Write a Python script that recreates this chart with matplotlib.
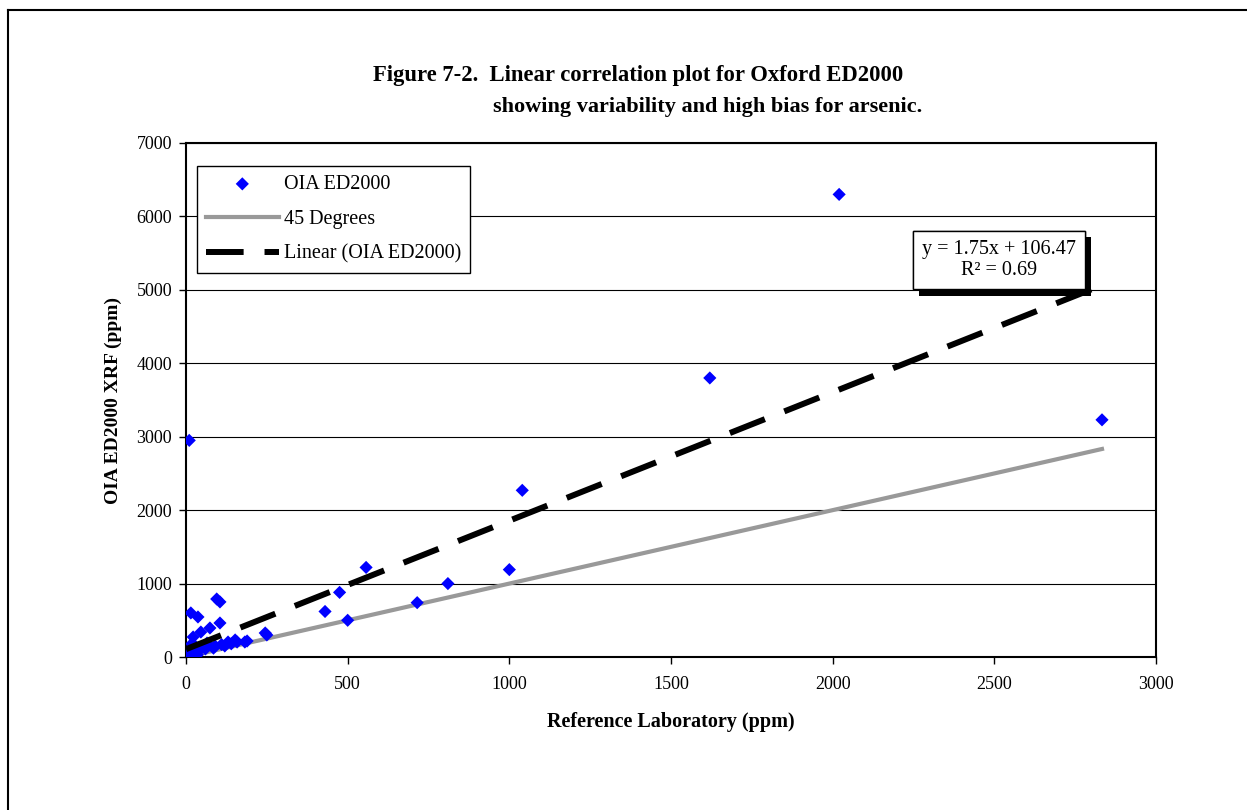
import matplotlib
matplotlib.use("Agg")
import matplotlib.pyplot as plt
import numpy as np
from matplotlib.lines import Line2D
from matplotlib import patheffects

# ---- data ----
ref_x = [2020, 1620, 2833, 10, 1040, 557, 1000, 810, 715, 475, 430, 500,
         250, 245, 189, 182, 152, 158, 130, 120, 95, 105, 105, 74, 46, 22,
         15, 37, 12, 5, 8, 20, 30, 3, 18, 28, 40, 50, 60, 70, 85, 65, 90,
         110, 140, 35, 25, 10]
xrf_y = [6300, 3800, 3230, 2950, 2270, 1220, 1190, 1000, 740, 880, 620, 500,
         300, 327, 218, 204, 232, 204, 204, 150, 790, 750, 463, 395, 340, 272,
         600, 545, 95, 40, 0, 120, 60, 70, 180, 150, 100, 130, 110, 160, 120,
         190, 150, 170, 180, 30, 20, 10]

slope = 1.75
intercept = 106.47
r2 = 0.69
x_ticks = [0, 500, 1000, 1500, 2000, 2500, 3000]
y_ticks = [0, 1000, 2000, 3000, 4000, 5000, 6000, 7000]

serif = ["Liberation Serif", "DejaVu Serif"]
plt.rcParams["font.family"] = serif

fig = plt.figure(figsize=(12.47, 8.10), dpi=100)
ax = fig.add_axes([186/1247, 1-657/810, 970/1247, 514/810])

# outer border
fig.add_artist(Line2D([8/1247, 8/1247], [0, 1-10/810], color="black", lw=1.5,
                      transform=fig.transFigure))
fig.add_artist(Line2D([8/1247, 1], [1-10/810, 1-10/810], color="black", lw=1.5,
                      transform=fig.transFigure))

xmax = max(ref_x)
xline = np.array([0, xmax])
ax.plot(xline, xline, color="#999999", lw=3, label="45 Degrees", zorder=2)
ax.plot(xline, slope*xline + intercept, color="black", lw=4.3, dashes=(6.3, 3.5),
        label="Linear (OIA ED2000)", zorder=4)
ax.scatter(ref_x, xrf_y, marker="D", s=45, color="#0000FF", edgecolors="none",
           label="OIA ED2000", zorder=3)

ax.set_xlim(0, 3000)
ax.set_ylim(0, 7000)
ax.set_xticks(x_ticks)
ax.set_yticks(y_ticks)
ax.yaxis.grid(True, color="black", lw=0.8)
ax.set_axisbelow(True)
for s in ax.spines.values():
    s.set_linewidth(1.5)
ax.tick_params(axis="both", labelsize=13, direction="out", length=5, width=1)
ax.tick_params(axis="y", pad=5)
ax.tick_params(axis="x", pad=9)
ax.set_xlabel("Reference Laboratory (ppm)", fontsize=14.5, fontweight="bold",
              labelpad=13)
ax.set_ylabel("OIA ED2000 XRF (ppm)", fontsize=14, fontweight="bold", labelpad=10)

handles, labels = ax.get_legend_handles_labels()
order = [2, 0, 1]
leg = ax.legend([handles[i] for i in order], [labels[i] for i in order],
                loc="upper left", bbox_to_anchor=(11/970, 1-23/514),
                borderaxespad=0, fontsize=14.5, frameon=True, fancybox=False,
                framealpha=1, edgecolor="black", borderpad=0.45,
                labelspacing=0.78, handlelength=3.6, handletextpad=0.25)
leg.get_frame().set_linewidth(1)

# equation box with shadow
eq = "y = 1.75x + 106.47\nR² = 0.69"
tx, ty = (999-186)/970, (657-260)/514
t = ax.text(tx, ty, eq, transform=ax.transAxes, ha="center", va="center",
            fontsize=14.5, color="black", linespacing=1.2, multialignment="center",
            bbox=dict(boxstyle="square,pad=0.45", fc="white", ec="black", lw=1),
            zorder=6)
t.get_bbox_patch().set_path_effects([
    patheffects.withSimplePatchShadow(offset=(4.5, -5), shadow_rgbFace="black",
                                      alpha=1.0),
    patheffects.Normal()])

# title
fig.text(373/1247, 1-75/810, "Figure 7-2.  Linear correlation plot for Oxford ED2000",
         fontsize=16.3, fontweight="bold", ha="left", va="center")
fig.text(493/1247, 1-107/810, "showing variability and high bias for arsenic.",
         fontsize=16, fontweight="bold", ha="left", va="center")

fig.savefig("out.png", dpi=100, facecolor="white")
